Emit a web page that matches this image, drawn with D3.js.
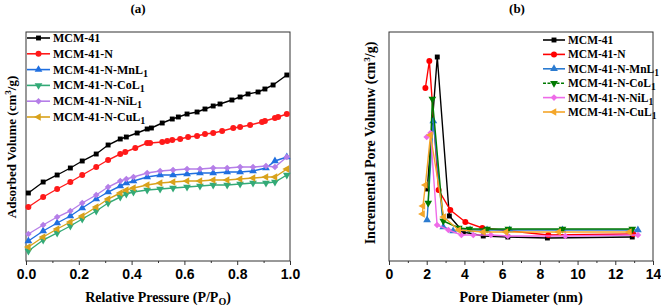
<!DOCTYPE html>
<html>
<head>
<meta charset="utf-8">
<script src="https://cdn.jsdelivr.net/npm/d3@7"></script>
<style>
  body { margin: 0; background: #fff; }
  svg { font-family: "Liberation Serif", "Times New Roman", serif; font-weight: bold; }
</style>
</head>
<body>
<div id="chart"></div>
<script>
// ---- data: (a) N2 isotherms, relative pressure vs adsorbed volume (arb. units)
var seriesNames = ['MCM-41', 'MCM-41-N', 'MCM-41-N-MnL', 'MCM-41-N-CoL', 'MCM-41-N-NiL', 'MCM-41-N-CuL'];
var subs = ['', '', '1', '1', '1', '1'];

var pBlack = [0.009,0.065,0.118,0.168,0.213,0.266,0.311,0.357,0.380,0.421,0.459,0.475,0.516,0.554,0.577,0.610,0.648,0.678,0.709,0.735,0.780,0.811,0.841,0.879,0.905,0.936,0.988];
var vBlack = [68,79,86,93,100,107,116,122,124,128,132,133,138,142,144,147,149,152,155,157,161,164,167,169,172,176,186];
var pRed = [0.009,0.065,0.118,0.168,0.213,0.266,0.311,0.357,0.376,0.414,0.459,0.470,0.516,0.535,0.554,0.584,0.614,0.648,0.678,0.709,0.743,0.785,0.811,0.849,0.894,0.905,0.943,0.955,0.988];
var vRed = [54,64,72,79,86,94,101,107,109,113,118,118,119,120,121,122,124,125,127,128,130,133,134,136,139,140,143,144,147];
var pLow = [0.009,0.065,0.118,0.168,0.213,0.266,0.311,0.357,0.380,0.407,0.459,0.508,0.557,0.610,0.659,0.709,0.762,0.811,0.860,0.909,0.943,0.988];
var vMn = [20,30,38,45,53,62,69,75,78,80,84,86,86,87,88,88,89,89,90,93,100,104];
var vCo = [10,21,28,35,42,50,58,64,67,69,71,72,73,74,75,76,76,77,78,78,79,86];
var vNi = [27,36,44,50,58,66,74,80,82,84,88,90,91,92,92,93,93,94,94,95,94,104];
var vCu = [14,24,32,39,45,54,62,68,71,73,76,78,79,80,80,81,81,82,83,84,84,92];

// ---- data: (b) pore size distribution, diameter (nm) vs incremental volume (arb. units)
var dBlack = [2.03,2.56,3.2,3.94,5.0,6.3,8.4,12.9];
var iBlack = [72,204,45,29,25,24,23,24];
var dRed = [1.93,2.14,2.63,3.25,4.05,4.95,8.45,12.95];
var iRed = [173,200,71,51,39,33,26,27];
var dMn = [2.02,2.35,2.88,3.4,4.3,5.2,6.4,9.2,13.2];
var iMn = [41,140,34,30,31,31,31,31,31];
var dCo = [2.08,2.3,2.88,3.7,4.26,5.2,6.33,9.2,12.9];
var iCo = [58,162,40,33,32,32,32,32,32];
var dNi = [2.0,2.2,2.55,3.15,3.84,4.47,5.4,6.3,9.35,13.2];
var iNi = [124,128,36,31,26,26,26,25,25,26];
var dCu = [1.78,1.8,1.93,2.2,2.9,3.7,5.0,6.2,9.0,12.75];
var iCu = [47,55,76,126,44,31,29,29,29,29];

var ticksA = [0, 0.2, 0.4, 0.6, 0.8, 1.0];
var ticksB = [0, 2, 4, 6, 8, 10, 12, 14];

var colorsA = ['#000000', '#ff1a1a', '#1f6fe0', '#33aa77', '#b57ee8', '#d9a21b'];
var colorsB = ['#000000', '#ff0000', '#2b7bd0', '#007a00', '#ee6be8', '#f4a62a'];

var zip = function(xs, ys) { return xs.map(function(x, i) { return [x, ys[i]]; }); };

var seriesA = [zip(pBlack, vBlack), zip(pRed, vRed), zip(pLow, vMn), zip(pLow, vCo), zip(pLow, vNi), zip(pLow, vCu)];
var seriesB = [zip(dBlack, iBlack), zip(dRed, iRed), zip(dMn, iMn), zip(dCo, iCo), zip(dNi, iNi), zip(dCu, iCu)];

// marker shapes: square, circle, up, down, diamond, left
var shapes = [
  { t: d3.symbolSquare, s: 24, r: 0 },
  { t: d3.symbolCircle, s: 28, r: 0 },
  { t: d3.symbolTriangle, s: 26, r: 0 },
  { t: d3.symbolTriangle, s: 26, r: 180 },
  { t: d3.symbolSquare, s: 22, r: 45 },
  { t: d3.symbolTriangle, s: 26, r: -90 }
];

var svg = d3.select('#chart').append('svg')
    .attr('width', 661)
    .attr('height', 308);

function drawPanel(opt) {
  var x = d3.scaleLinear().domain(opt.xDomain).range([opt.left, opt.right]);
  var y = d3.scaleLinear().domain([0, 229]).range([261, 32]);
  var g = svg.append('g');

  // frame
  g.append('rect')
      .attr('x', opt.left).attr('y', 32)
      .attr('width', opt.right - opt.left).attr('height', 229)
      .attr('fill', 'none').attr('stroke', '#333').attr('stroke-width', 1);

  // x axis
  var ax = g.append('g')
      .attr('transform', 'translate(0,261)')
      .call(d3.axisBottom(x).tickValues(opt.ticks).tickFormat(opt.fmt).tickSize(4).tickPadding(4));
  ax.select('.domain').remove();
  ax.selectAll('text').style('font-size', '14px').style('font-family', 'inherit').attr('fill', '#000');
  ax.selectAll('line').attr('stroke', '#333');
  g.append('g')
      .attr('transform', 'translate(0,261)')
      .call(d3.axisBottom(x).tickValues(opt.minor).tickFormat('').tickSize(2))
      .call(function(s) { s.select('.domain').remove(); s.selectAll('line').attr('stroke', '#333'); });

  var line = d3.line().x(function(d) { return x(d[0]); }).y(function(d) { return y(d[1]); });

  opt.series.forEach(function(data, i) {
    var c = opt.colors[i];
    g.append('path')
        .datum(data)
        .attr('d', line)
        .attr('fill', 'none')
        .attr('stroke', c)
        .attr('stroke-width', 1.4);
    g.selectAll(null)
        .data(data)
        .enter()
        .append('path')
        .attr('d', d3.symbol().type(shapes[i].t).size(shapes[i].s))
        .attr('transform', function(d) { return 'translate(' + x(d[0]) + ',' + y(d[1]) + ') rotate(' + shapes[i].r + ')'; })
        .attr('fill', c);
  });

  // legend
  var lg = g.append('g');
  seriesNames.forEach(function(name, i) {
    var yy = opt.legY + i * opt.legDy;
    var c = opt.colors[i];
    lg.append('line')
        .attr('x1', opt.legX).attr('x2', opt.legX + opt.legW)
        .attr('y1', yy).attr('y2', yy)
        .attr('stroke', c).attr('stroke-width', 1.6)
        .attr('stroke-dasharray', opt.dashed && opt.dashed[i] ? '3,1.5' : null);
    lg.append('path')
        .attr('d', d3.symbol().type(shapes[i].t).size(shapes[i].s))
        .attr('transform', 'translate(' + (opt.legX + opt.legW / 2) + ',' + yy + ') rotate(' + shapes[i].r + ')')
        .attr('fill', c);
    var t = lg.append('text')
        .attr('x', opt.legX + opt.legW + 3)
        .attr('y', yy + 4)
        .style('font-size', opt.legFont + 'px')
        .text(name);
    if (subs[i]) {
      t.append('tspan')
          .attr('dy', 3)
          .style('font-size', (opt.legFont - 2) + 'px')
          .text(subs[i]);
    }
  });

  // titles
  g.append('text')
      .attr('x', (opt.left + opt.right) / 2 + opt.titleOff)
      .attr('y', 13)
      .attr('text-anchor', 'middle')
      .style('font-size', '13px')
      .text(opt.title);

  var xt = g.append('text')
      .attr('x', (opt.left + opt.right) / 2)
      .attr('y', 302)
      .attr('text-anchor', 'middle')
      .style('font-size', opt.xFont + 'px')
      .text(opt.xLabel);
  if (opt.xSub) {
    xt.append('tspan').attr('dy', 3).style('font-size', '10px').text(opt.xSub);
    xt.append('tspan').attr('dy', -3).text(')');
  }

  var yt = g.append('text')
      .attr('transform', 'translate(' + opt.yLabX + ',' + opt.yLabY + ') rotate(-90)')
      .attr('text-anchor', 'middle')
      .style('font-size', opt.yFont + 'px')
      .text(opt.yLabel);
  yt.append('tspan').attr('dy', -5).style('font-size', '9px').text('3');
  yt.append('tspan').attr('dy', 5).text('/g)');
}

drawPanel({
  left: 26, right: 290, xDomain: [0, 1],
  ticks: ticksA, minor: [0.1, 0.3, 0.5, 0.7, 0.9], fmt: d3.format('.1f'),
  series: seriesA, colors: colorsA,
  legX: 27, legY: 38, legDy: 15.8, legW: 23, legFont: 12,
  title: '(a)', titleOff: -20,
  xLabel: 'Relative Pressure (P/P', xSub: 'O', xFont: 14,
  yLabel: 'Adsorbed Volume (cm', yLabX: 16, yLabY: 147, yFont: 13
});

drawPanel({
  left: 389, right: 653, xDomain: [0, 14],
  ticks: ticksB, minor: [1, 3, 5, 7, 9, 11, 13], fmt: d3.format('d'),
  series: seriesB, colors: colorsB,
  legX: 543, legY: 40, legDy: 14.4, legW: 22, legFont: 11.5,
  dashed: [false, false, false, true, false, false],
  title: '(b)', titleOff: -4,
  xLabel: 'Pore Diameter (nm)', xSub: null, xFont: 14.5,
  yLabel: 'Incremental Pore Volumw (cm', yLabX: 375, yLabY: 143, yFont: 14
});
</script>
</body>
</html>
